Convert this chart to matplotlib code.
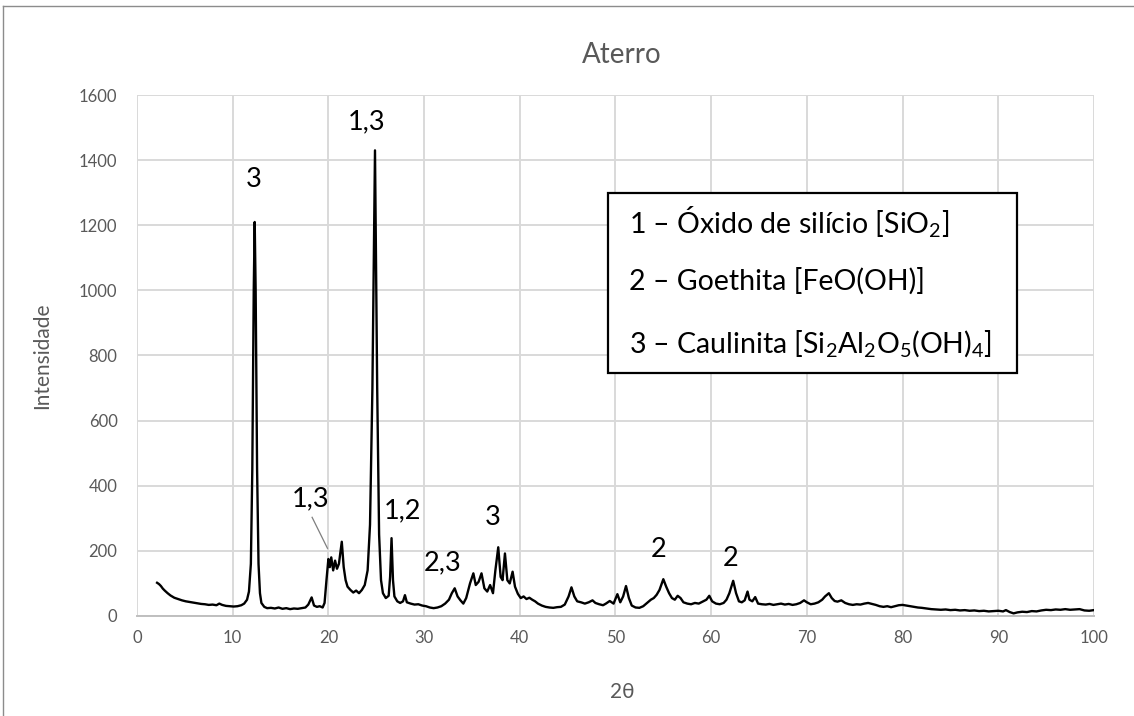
import matplotlib.pyplot as plt
from matplotlib.lines import Line2D
from matplotlib.patches import Rectangle

plt.rcParams['font.family'] = ['Lato', 'DejaVu Sans']
plt.rcParams['mathtext.fontset'] = 'custom'
plt.rcParams['mathtext.rm'] = 'Lato'

# diffractogram
two_theta = [
    2.1, 2.3, 2.5, 2.7, 2.9, 3.2, 3.5, 3.9, 4.3, 4.7, 5.1, 5.5, 5.9, 6.3, 6.7, 7.1, 7.5, 7.9, 8.3, 8.6,
    8.9, 9.3, 9.7, 10.1, 10.5, 10.9, 11.2, 11.5, 11.7, 11.9, 12.05, 12.2, 12.3, 12.4, 12.55, 12.7, 12.85, 13.0, 13.3, 13.6,
    14.0, 14.4, 14.8, 15.2, 15.6, 16.0, 16.4, 16.8, 17.2, 17.6, 17.9, 18.25, 18.5, 18.8, 19.1, 19.4, 19.6, 19.8, 20.0, 20.15,
    20.3, 20.5, 20.7, 20.9, 21.1, 21.4, 21.6, 21.8, 22.0, 22.3, 22.6, 22.9, 23.2, 23.5, 23.8, 24.1, 24.35, 24.6, 24.87, 25.1,
    25.3, 25.5, 25.7, 26.0, 26.3, 26.45, 26.6, 26.75, 26.9, 27.2, 27.5, 27.8, 28.0, 28.2, 28.6, 29.0, 29.4, 29.8, 30.2, 30.6,
    31.0, 31.4, 31.8, 32.2, 32.6, 32.9, 33.2, 33.5, 33.8, 34.1, 34.4, 34.8, 35.15, 35.4, 35.7, 36.0, 36.3, 36.6, 36.9, 37.2,
    37.45, 37.75, 38.0, 38.2, 38.45, 38.7, 38.95, 39.25, 39.5, 39.8, 40.1, 40.4, 40.7, 41.0, 41.3, 41.6, 41.9, 42.3, 42.7, 43.1,
    43.5, 43.9, 44.3, 44.7, 45.1, 45.4, 45.7, 46.0, 46.4, 46.8, 47.2, 47.6, 47.9, 48.3, 48.7, 49.0, 49.4, 49.8, 50.2, 50.5,
    50.8, 51.1, 51.4, 51.7, 52.1, 52.5, 52.9, 53.3, 53.7, 54.0, 54.3, 54.6, 55.0, 55.3, 55.6, 55.9, 56.2, 56.5, 56.8, 57.1,
    57.5, 57.9, 58.3, 58.7, 59.1, 59.5, 59.8, 60.1, 60.5, 60.9, 61.3, 61.6, 61.9, 62.3, 62.6, 62.9, 63.2, 63.5, 63.8, 64.0,
    64.3, 64.6, 64.9, 65.3, 65.7, 66.1, 66.5, 66.9, 67.3, 67.7, 68.1, 68.5, 68.9, 69.3, 69.7, 70.0, 70.4, 70.8, 71.2, 71.6,
    71.9, 72.3, 72.6, 72.9, 73.2, 73.6, 74.0, 74.4, 74.8, 75.2, 75.6, 76.0, 76.4, 76.8, 77.2, 77.6, 78.0, 78.4, 78.8, 79.2,
    79.6, 80.0, 80.4, 80.8, 81.2, 81.6, 82.0, 82.5, 83.0, 83.5, 84.0, 84.5, 85.0, 85.5, 86.0, 86.5, 87.0, 87.5, 88.0, 88.5,
    89.0, 89.5, 90.0, 90.5, 90.8, 91.2, 91.6, 92.0, 92.5, 93.0, 93.5, 94.0, 94.5, 95.0, 95.5, 96.0, 96.5, 97.0, 97.5, 98.0,
    98.5, 99.0, 99.5, 100.0,
]
intensity = [
    102, 98, 92, 84, 78, 70, 63, 56, 52, 48, 45, 43, 41, 39, 37, 36, 34, 35, 33, 38,
    34, 31, 30, 29, 30, 33, 38, 50, 75, 160, 450, 1000, 1210, 1000, 450, 160, 70, 40, 28, 24,
    25, 23, 26, 22, 24, 21, 23, 22, 24, 26, 35, 57, 32, 28, 30, 26, 40, 110, 175, 150,
    180, 140, 170, 145, 160, 228, 150, 110, 90, 80, 72, 78, 70, 80, 95, 140, 280, 700, 1430, 700,
    250, 110, 70, 55, 62, 120, 239, 110, 60, 45, 40, 45, 64, 42, 38, 35, 36, 32, 30, 26,
    24, 26, 30, 38, 50, 70, 85, 60, 48, 38, 55, 100, 131, 95, 105, 131, 85, 75, 95, 70,
    140, 211, 120, 110, 192, 110, 100, 136, 90, 68, 55, 60, 52, 56, 50, 45, 38, 32, 28, 26,
    25, 27, 28, 35, 60, 88, 60, 45, 42, 38, 42, 48, 40, 36, 33, 38, 46, 38, 67, 42,
    60, 92, 55, 32, 26, 25, 30, 40, 50, 55, 65, 80, 113, 90, 70, 55, 50, 62, 55, 42,
    38, 36, 40, 38, 44, 50, 62, 45, 38, 36, 40, 50, 70, 108, 70, 45, 42, 48, 75, 50,
    45, 58, 38, 36, 35, 37, 34, 36, 38, 35, 37, 34, 36, 40, 48, 42, 36, 38, 42, 50,
    60, 70, 55, 46, 44, 48, 40, 36, 34, 36, 35, 38, 40, 37, 34, 30, 28, 30, 27, 30,
    33, 34, 32, 30, 28, 26, 25, 23, 21, 20, 19, 20, 18, 19, 17, 18, 16, 17, 15, 16,
    14, 15, 16, 14, 18, 12, 8, 11, 13, 12, 15, 14, 17, 19, 18, 20, 19, 21, 19, 20,
    21, 17, 16, 18,
]

# peak labels
peak_labels = ['3', '1,3', '1,3', '1,2', '2,3', '3', '2', '2']
label_x = [12.2, 24.0, 18.15, 27.8, 31.9, 37.2, 54.5, 62.0]
label_y = [1339, 1517, 361, 323, 162, 303, 203, 177]

legend_lines = [
    '1 – Óxido de silício [SiO$_2$]',
    '2 – Goethita [FeO(OH)]',
    '3 – Caulinita [Si$_2$Al$_2$O$_5$(OH)$_4$]',
]

grey = '#595959'
grid = '#d9d9d9'

fig = plt.figure(figsize=(11.34, 7.16), dpi=100)
ax = fig.add_axes([0.1208, 0.1397, 0.8439, 0.7276])

ax.plot(two_theta, intensity, color='black', lw=1.7, zorder=3)

ax.set_xlim(0, 100)
ax.set_ylim(0, 1600)
ax.set_xticks(range(0, 101, 10))
ax.set_yticks(range(0, 1601, 200))
ax.grid(True, color=grid, lw=1.4)
ax.set_axisbelow(True)
for side in ['top', 'right', 'left']:
    ax.spines[side].set_visible(False)
ax.spines['bottom'].set_color('#bfbfbf')
ax.spines['bottom'].set_linewidth(1.4)
ax.tick_params(length=0, labelsize=12, colors=grey, pad=10)
ax.tick_params(axis='y', pad=14)

fig.text(0.5485, 0.923, 'Aterro', fontsize=20, color=grey, ha='center', va='center')
fig.text(0.5485, 0.0335, '2θ', fontsize=15, color=grey, ha='center', va='center')
fig.text(0.037, 0.503, 'Intensidade', fontsize=15, color=grey, ha='center', va='center',
         rotation=90)

for txt, x, y in zip(peak_labels, label_x, label_y):
    ax.text(x, y, txt, fontsize=19.5, ha='center', va='center', color='black', zorder=4)

# leader line for the small 1,3 label
ax.plot([18.3, 19.9], [303, 208], color='#7f7f7f', lw=0.9, zorder=4)

ax.add_patch(Rectangle((0.492, 0.4664), 0.4275, 0.3456, transform=ax.transAxes,
                       facecolor='white', edgecolor='black', lw=1.6, zorder=5))
for i, line in enumerate(legend_lines):
    ax.text(0.514, [0.735, 0.6257, 0.5048][i], line, transform=ax.transAxes,
            fontsize=20.5, ha='left', va='baseline', color='black', zorder=6)

# outer chart border (only top and left visible)
fig.add_artist(Line2D([0.0026, 1.0], [0.9916, 0.9916], color='#8c8c8c', lw=1.0))
fig.add_artist(Line2D([0.0026, 0.0026], [0.0, 0.9916], color='#8c8c8c', lw=1.0))

fig.savefig('out.png', dpi=100)
